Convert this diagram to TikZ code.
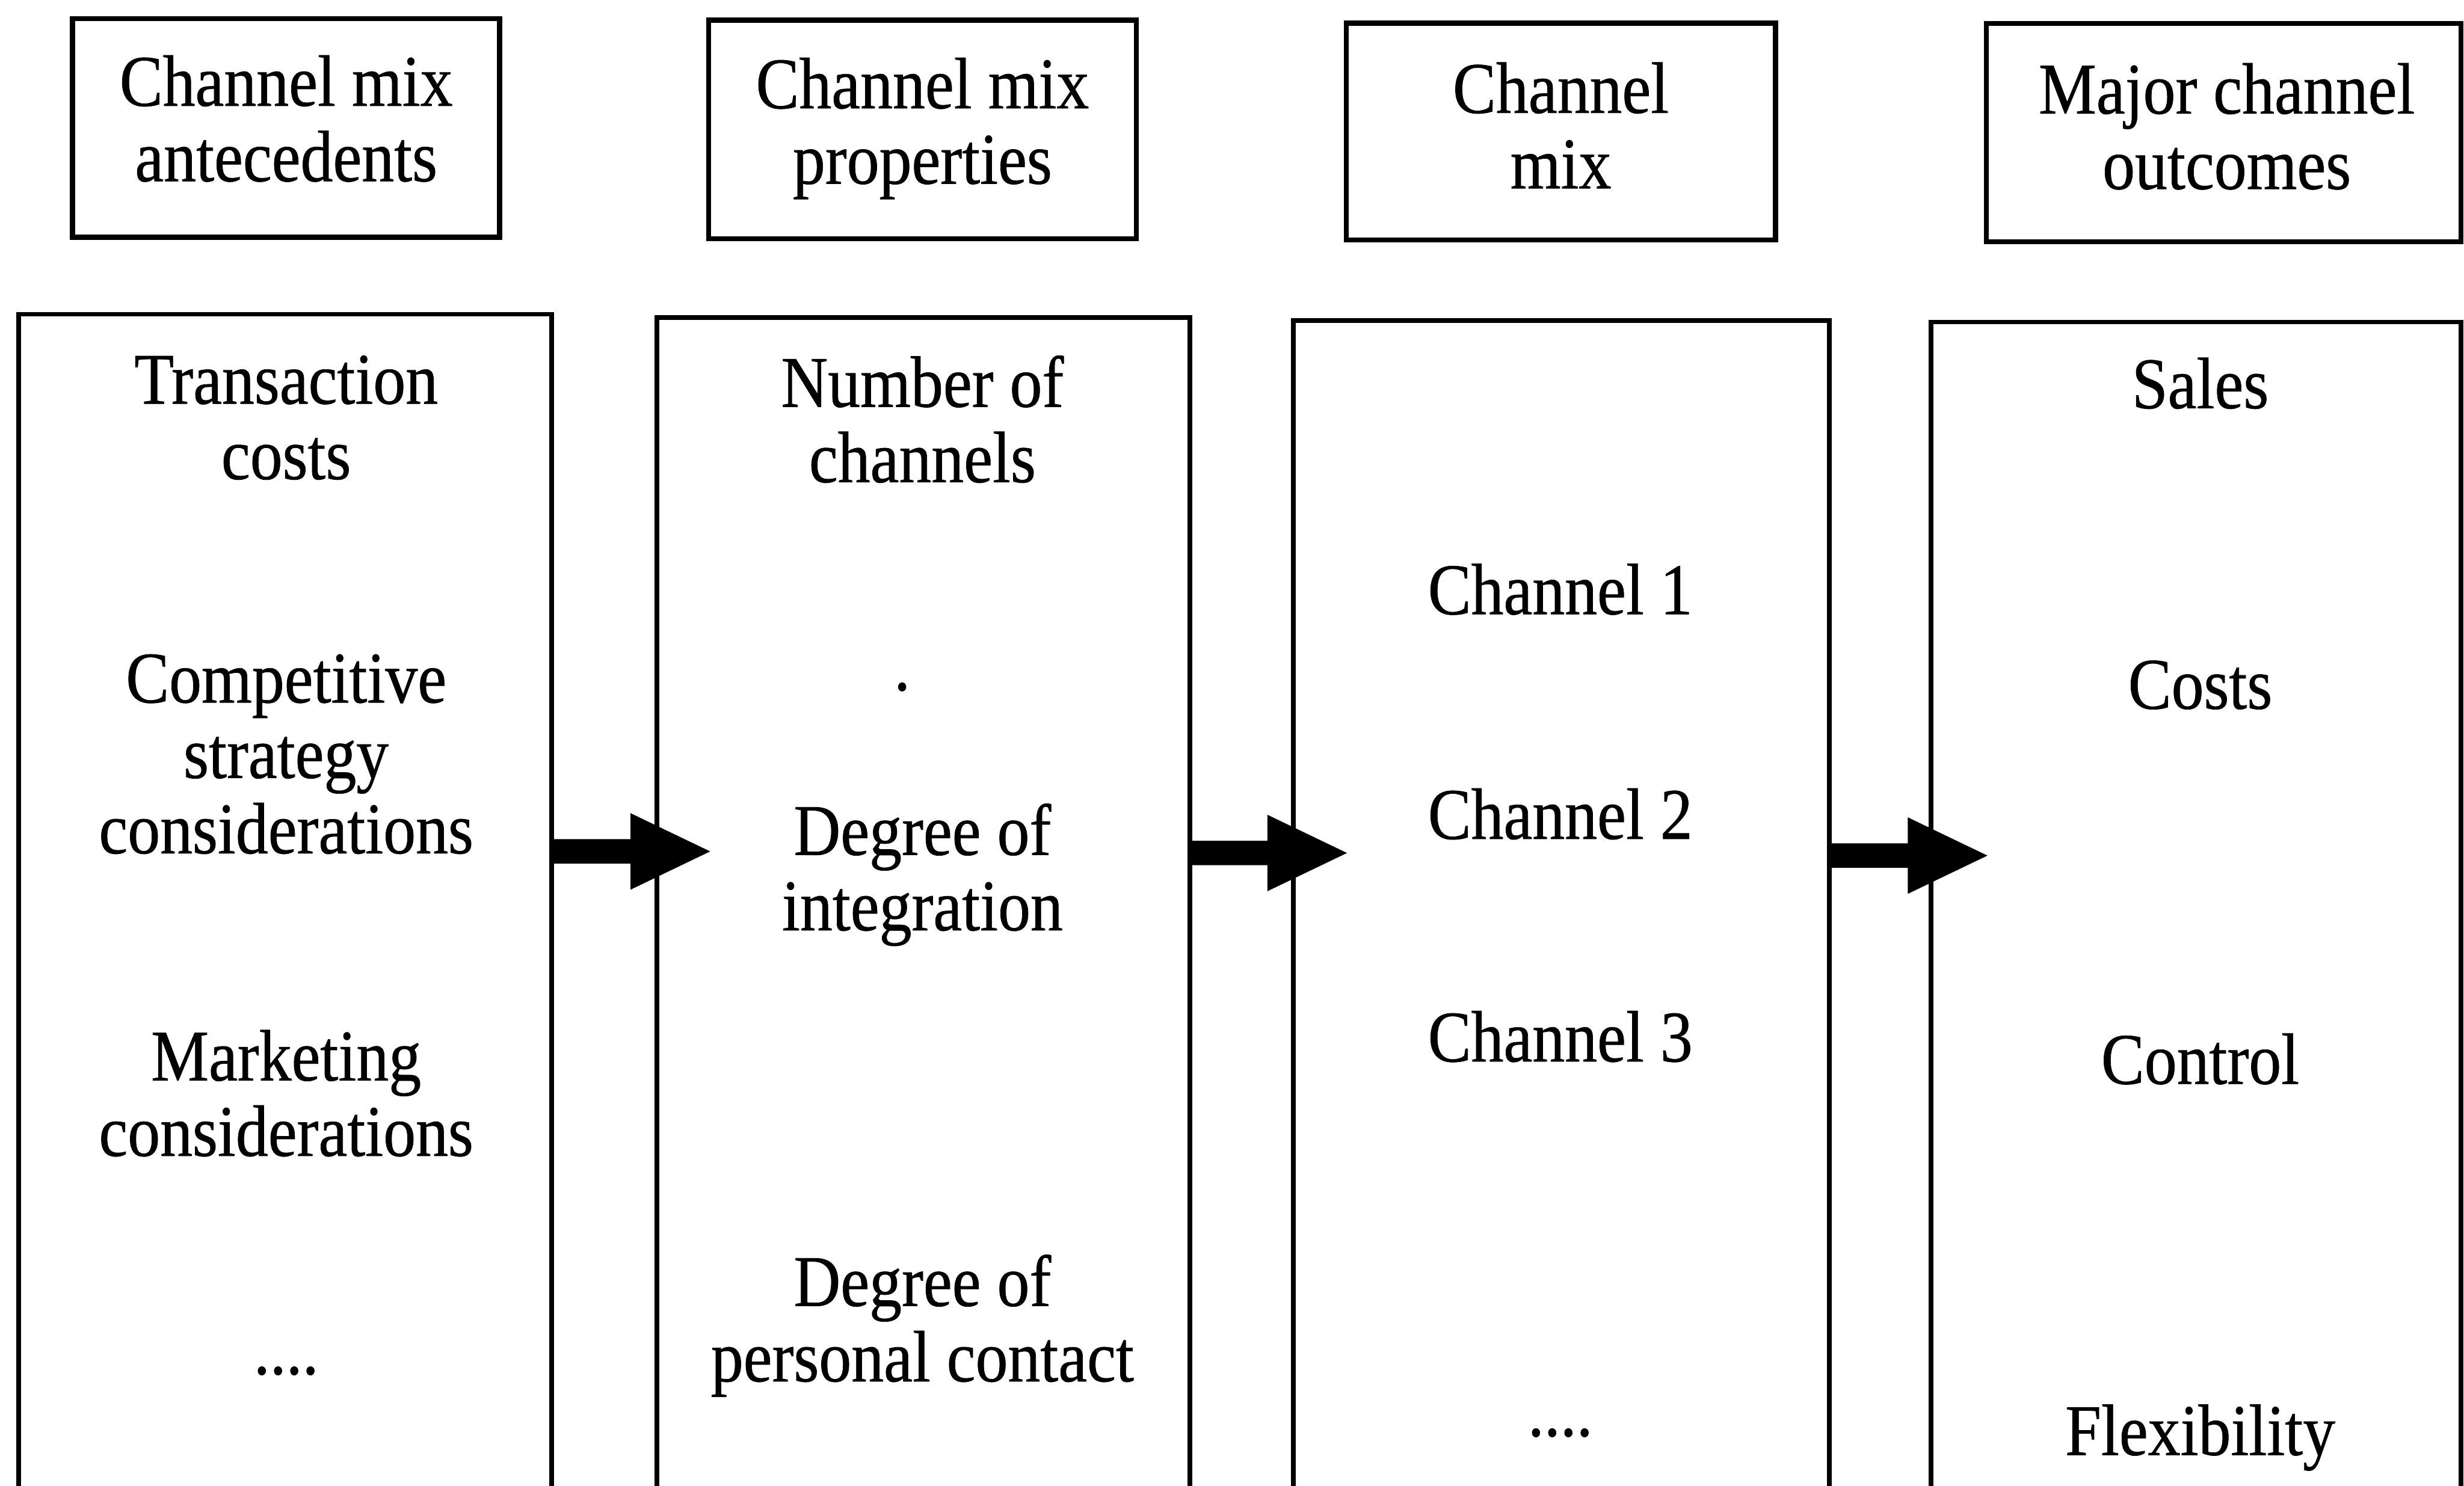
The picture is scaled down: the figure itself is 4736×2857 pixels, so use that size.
\documentclass[tikz,border=0pt]{standalone}
\usepackage{fontspec}
\setmainfont{Liberation Serif}[FakeStretch=0.89, FakeBold=0.6]
\usetikzlibrary{calc}
\newcommand\diaglbl{\fontsize{14}{14.5}\selectfont}
\newcommand\fatarrow[2]{%
  \fill[black] ($(#1)+(0,-23.5)$) -- ($(#2)+(-153,-23.5)$) -- ($(#2)+(-153,-73.5)$) -- (#2)
    -- ($(#2)+(-153,73.5)$) -- ($(#2)+(-153,23.5)$) -- ($(#1)+(0,23.5)$) -- cycle;}
\begin{document}
\begin{tikzpicture}[x=0.1pt,y=-0.1pt,
  topbox/.style={draw, line width=1pt, inner sep=0pt},
  tallbox/.style={draw, line width=0.9pt, inner sep=0pt, minimum height=240pt},
  lbl/.style={inner sep=0pt, align=center, font=\diaglbl}]
\useasboundingbox (0,0) rectangle (4736,2857);
\clip (0,0) rectangle (4736,2857);
% header boxes
\node[topbox, minimum width=82.1pt, minimum height=42pt] (h1) at (550,246) {};
\node[topbox, minimum width=82.2pt, minimum height=42pt] (h2) at (1773,249) {};
\node[topbox, minimum width=82.5pt, minimum height=41.7pt] (h3) at (3000,253) {};
\node[topbox, minimum width=91.2pt, minimum height=42pt] (h4) at (4274,255) {};
\node[lbl] (h1t) at ($(h1.center)+(0,-18)$) {Channel mix\\antecedents};
\node[lbl] (h2t) at ($(h2.center)+(0,-2)$) {Channel mix\\properties};
\node[lbl] (h3t) at ($(h3.center)+(0,-12)$) {Channel\\mix};
\node[lbl] (h4t) at ($(h4.center)+(6,-12)$) {Major channel\\outcomes};
% tall boxes (run off the bottom)
\node[tallbox, minimum width=102.4pt] (b1) at (548,1804) {};
\node[tallbox, minimum width=102.4pt] (b2) at (1775,1810) {};
\node[tallbox, minimum width=103pt] (b3) at (3001,1816) {};
\node[tallbox, minimum width=101.9pt] (b4) at (4221,1819) {};
% column 1
\node[lbl] (c1a) at (550,803) {Transaction\\costs};
\node[lbl] (c1b) at (550,1450) {Competitive\\strategy\\considerations};
\node[lbl] (c1c) at (550,2102) {Marketing\\considerations};
\node[lbl, anchor=base] (c1d) at (550,2642) {....};
% column 2
\node[lbl] (c2a) at (1773,806) {Number of\\channels};
\node[lbl, anchor=base] (c2dot) at (1734,1327) {.};
\node[lbl] (c2b) at (1773,1682) {Degree of\\integration};
\node[lbl] (c2c) at (1773,2549) {Degree of\\personal contact};
% column 3
\node[lbl] (c3a) at (2999,1133) {Channel 1};
\node[lbl] (c3b) at (2999,1565) {Channel 2};
\node[lbl] (c3c) at (2999,1993) {Channel 3};
\node[lbl, anchor=base] (c3d) at (2999,2761) {....};
% column 4
\node[lbl] (c4a) at (4229,737) {Sales};
\node[lbl] (c4b) at (4229,1317) {Costs};
\node[lbl] (c4c) at (4229,2036) {Control};
\node[lbl] (c4d) at (4229,2764) {Flexibility};
% arrows
\coordinate (t1) at (1365,1637);
\coordinate (t2) at (2589,1640);
\coordinate (t3) at (3820,1645);
\fatarrow{b1.east |- t1}{t1}
\fatarrow{b2.east |- t2}{t2}
\fatarrow{b3.east |- t3}{t3}
\end{tikzpicture}
\end{document}
